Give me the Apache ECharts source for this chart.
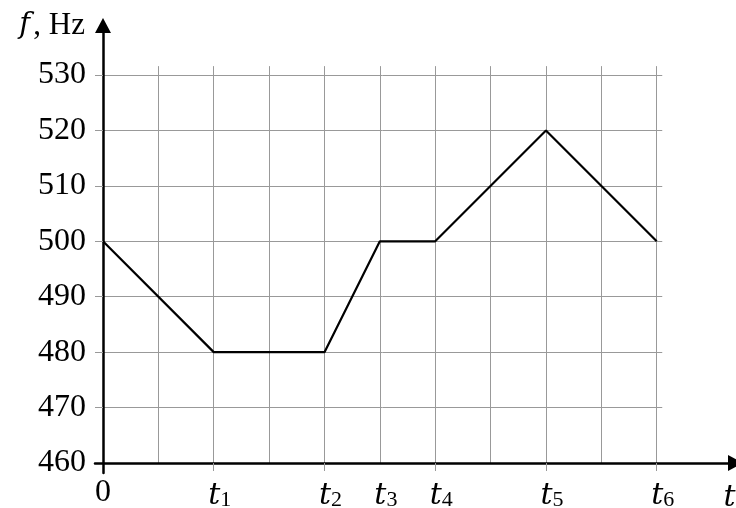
<!DOCTYPE html>
<html>
<head>
<meta charset="utf-8">
<script src="https://cdn.jsdelivr.net/npm/echarts@6/dist/echarts.min.js"></script>
<style>html,body{margin:0;padding:0;background:#fff}#c{width:736px;height:508px}</style>
</head>
<body>
<div id="c"></div>
<script>
// ---- data ----
const tData = [0, 2, 4, 5, 6, 8, 10];
const fData = [500, 480, 480, 500, 500, 520, 500];
// x tick labels (positions and subscripts); '' means plain "0"
const xLabelPos = [0, 2, 4, 5, 6, 8, 10];
const xLabelSub = ['', '1', '2', '3', '4', '5', '6'];
const xTickMarks = [2, 4, 6, 8, 10];
const yLabels = [460, 470, 480, 490, 500, 510, 520, 530];
const yTickMarks = [470, 480, 490, 500, 510, 520, 530];
const xGridLines = [1, 2, 3, 4, 5, 6, 7, 8, 9, 10];
const yGridLines = [470, 480, 490, 500, 510, 520, 530];
const gridTopF = 531.6;
const gridRightT = 10.1;

const gridData = [];
xGridLines.forEach(x => gridData.push({coords: [[x, 460], [x, gridTopF]]}));
yGridLines.forEach(y => gridData.push({coords: [[0, y], [gridRightT, y]]}));

const chart = echarts.init(document.getElementById('c'), null, {renderer: 'canvas'});
chart.setOption({
  animation: false,
  backgroundColor: '#fff',
  grid: {left: 95, right: 0.5, top: 25.5, bottom: 35, containLabel: false, outerBoundsMode: 'none'},
  xAxis: {
    type: 'value', min: -0.1445, max: 11.423, position: 'bottom', offset: -10, z: 3,
    axisLine: {onZero: false, lineStyle: {color: '#000', width: 2.5}, symbol: ['none', 'triangle'], symbolSize: [16, 15]},
    splitLine: {show: false},
    axisTick: {show: true, customValues: xTickMarks, length: 8, lineStyle: {color: '#999', width: 1}},
    axisLabel: {
      customValues: xLabelPos, margin: 12,
      formatter: function (v) {
        const i = xLabelPos.indexOf(v);
        if (i < 0) return '';
        if (!xLabelSub[i]) return '{n|0}';
        return '{t|t}{s|' + xLabelSub[i] + '}';
      },
      rich: {
        n: {fontFamily: 'Liberation Serif', fontSize: 32, lineHeight: 36, color: '#000'},
        t: {fontFamily: 'DejaVu Serif', fontStyle: 'italic', fontSize: 30, lineHeight: 36, color: '#000', padding: [7, 0, 0, 12]},
        s: {fontFamily: 'Liberation Serif', fontSize: 22, lineHeight: 16, color: '#000', verticalAlign: 'bottom'}
      }
    },
    name: 't', nameLocation: 'end', nameGap: 0,
    nameTextStyle: {fontFamily: 'DejaVu Serif', fontStyle: 'italic', fontSize: 30, lineHeight: 30, color: '#000', align: 'right', verticalAlign: 'top', padding: [20, 0, 0, 0]}
  },
  yAxis: {
    type: 'value', min: 458.196, max: 538.93, position: 'left', z: 3,
    axisLine: {onZero: true, lineStyle: {color: '#000', width: 2.5}, symbol: ['none', 'triangle'], symbolSize: [16, 15]},
    splitLine: {show: false},
    axisTick: {show: true, customValues: yTickMarks, length: 8, lineStyle: {color: '#999', width: 1}},
    axisLabel: {customValues: yLabels, margin: 9, fontFamily: 'Liberation Serif', fontSize: 32, color: '#000'},
    name: '{f|f} {r|, Hz}', nameLocation: 'end', nameGap: 0,
    nameTextStyle: {
      align: 'right', verticalAlign: 'middle', padding: [0, 18, 0, 0],
      rich: {
        f: {fontFamily: 'DejaVu Serif', fontStyle: 'italic', fontSize: 29, color: '#000'},
        r: {fontFamily: 'Liberation Serif', fontSize: 31, color: '#000'}
      }
    }
  },
  series: [
    {
      type: 'lines', coordinateSystem: 'cartesian2d', silent: true, z: 1,
      lineStyle: {color: '#999', width: 1, opacity: 1, curveness: 0},
      data: gridData
    },
    {
      type: 'line', z: 2, symbol: 'none', showSymbol: false, silent: true,
      lineStyle: {color: '#000', width: 2.2},
      data: tData.map((t, i) => [t, fData[i]])
    }
  ]
});
</script>
</body>
</html>
